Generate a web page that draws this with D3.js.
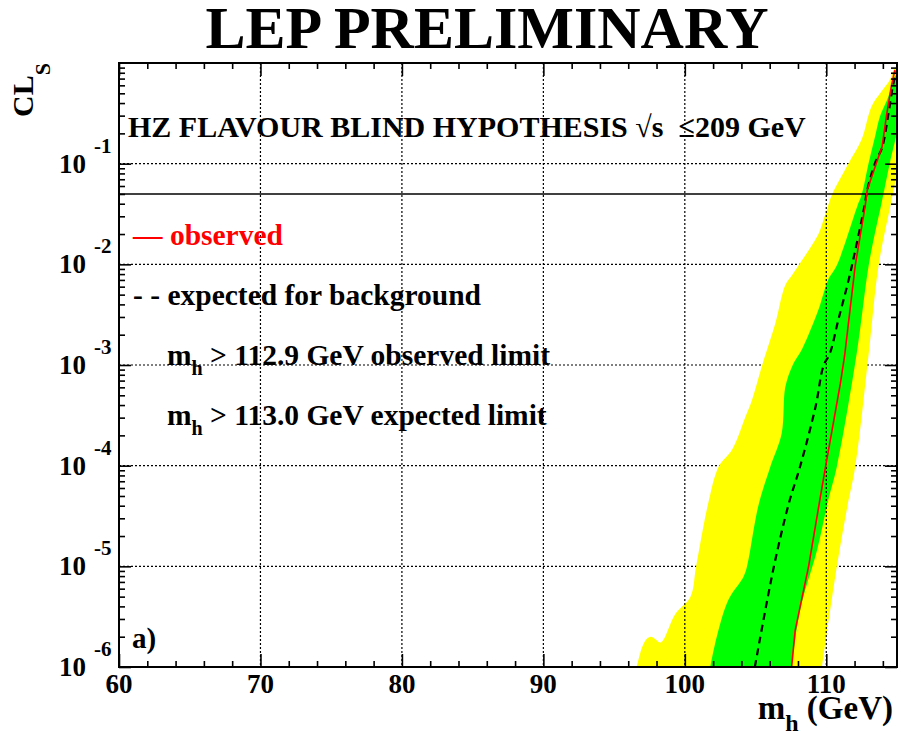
<!DOCTYPE html>
<html><head><meta charset="utf-8">
<script src="https://cdn.jsdelivr.net/npm/d3@7"></script>
<style>
body{margin:0;background:#fff}
svg{display:block}
text{font-family:"Liberation Serif","Times New Roman",serif;font-weight:bold;fill:#000}
</style>
</head><body>
<svg id="c" width="898" height="745"></svg>
<script>
// ---- data (m_h in GeV, CLs) ----
const massTicks = [60, 70, 80, 90, 100, 110];
const massTickLabels = ["60", "70", "80", "90", "100", "110"];
const clsTicks = [1e-6, 1e-5, 1e-4, 1e-3, 1e-2, 1e-1];
const clsExponents = ["-6", "-5", "-4", "-3", "-2", "-1"];
const limitCLs = 0.05;

const yellowUpper = [[96.6,1e-6],[97.0,1.6e-6],[97.3,1.9e-6],[97.6,2.0e-6],[97.9,1.9e-6],[98.3,1.75e-6],[99.35,3.4e-6],[100.4,5.0e-6],[100.8,1.0e-5],[101.65,4.2e-5],[102.4,9.8e-5],[103.35,1.45e-4],[104.3,3.1e-4],[104.75,4.5e-4],[105.45,9.8e-4],[105.8,1.4e-3],[106.4,2.6e-3],[107.1,6.2e-3],[107.6,7.9e-3],[108.05,9.8e-3],[109.45,2.0e-2],[109.8,2.75e-2],[110.05,3.5e-2],[110.4,4.9e-2],[111.6,0.102],[112.5,0.174],[113.2,0.37],[113.9,0.52],[114.5,0.68],[114.75,0.85],[115,0.95]];
const yellowLower = [[109.7,1e-6],[110.75,1.0e-5],[111.5,4.0e-5],[112.05,9.8e-5],[113.0,1.3e-3],[113.7,9.8e-3],[114.55,3.9e-2],[115,0.08]];
const greenUpper = [[101.8,1e-6],[102.3,2.1e-6],[103.1,4.7e-6],[104.15,7.9e-6],[104.4,1.0e-5],[105.2,4.0e-5],[106.05,9.8e-5],[106.85,2.1e-4],[107.1,6.0e-4],[107.6,9.8e-4],[108.3,1.45e-3],[109.45,3.55e-3],[109.8,5.1e-3],[110.15,7.1e-3],[110.75,9.8e-3],[112.2,3.8e-2],[112.5,4.9e-2],[113.0,0.102],[113.45,0.186],[113.8,0.295],[114.4,0.468],[114.75,0.676],[115,0.8]];
const greenLower = [[107.55,1e-6],[108.15,3.7e-6],[109.35,1.45e-5],[110.15,4.6e-5],[110.75,9.8e-5],[112.15,1.3e-3],[113.0,9.8e-3],[113.55,2.4e-2],[113.9,4.0e-2],[114.5,0.102],[115,0.2]];
const expected = [[104.95,1e-6],[106.3,1.0e-5],[107.35,4.2e-5],[108.15,9.8e-5],[109.25,3.9e-4],[109.8,9.8e-4],[110.25,1.3e-3],[110.85,2.8e-3],[111.6,7.2e-3],[112.05,1.38e-2],[112.7,3.8e-2],[112.9,5.5e-2],[113.45,0.102],[113.95,0.145],[114.4,0.316],[114.75,0.63],[115,0.85]];
const observed = [[107.55,1e-6],[107.8,2.3e-6],[108.75,1.0e-5],[109.5,4.2e-5],[109.95,9.8e-5],[111.0,6.6e-4],[111.3,1.25e-3],[112.05,9.8e-3],[112.75,3.8e-2],[112.9,5.5e-2],[113.55,0.102],[113.95,0.148],[114.25,0.295],[114.6,0.59],[114.85,0.85]];

// ---- layout ----
const L = 119, R = 897, T = 63, B = 667;
const svg = d3.select("#c");
const x = d3.scaleLinear().domain([60, 115]).range([L, R]);
const y = d3.scaleLog().domain([1e-6, 1]).range([B, T]);

svg.append("defs").append("clipPath").attr("id","clip")
  .append("rect").attr("x",L).attr("y",T).attr("width",R-L).attr("height",B-T);

const line = d3.line().x(d => x(d[0])).y(d => y(d[1]));
const smooth = d3.line().x(d => x(d[0])).y(d => y(d[1])).curve(d3.curveCatmullRom.alpha(0.5));
const plot = svg.append("g").attr("clip-path","url(#clip)");

// horizontal grid (under bands)
plot.selectAll(".hg").data(clsTicks.slice(1)).join("line")
  .attr("x1",L).attr("x2",R).attr("y1",d=>y(d)).attr("y2",d=>y(d))
  .attr("stroke","#000").attr("stroke-width",1.2).attr("stroke-dasharray","2,2");

function bandPath(upper, lower) {
  const a = smooth(upper);
  const b = smooth(lower.slice().reverse());
  return a + "L" + b.slice(1) + "Z";
}
// bands
plot.append("path").attr("d", bandPath(yellowUpper, yellowLower))
  .attr("fill","#ffff00").attr("stroke","none");
plot.append("path").attr("d", bandPath(greenUpper, greenLower))
  .attr("fill","#00ff00").attr("stroke","none");

// vertical grid (over bands)
plot.selectAll(".vg").data(massTicks.slice(1)).join("line")
  .attr("x1",d=>x(d)).attr("x2",d=>x(d)).attr("y1",T).attr("y2",B)
  .attr("stroke","#000").attr("stroke-width",1.2).attr("stroke-dasharray","2,2");

// 95% CL line
plot.append("line").attr("x1",L).attr("x2",R).attr("y1",y(limitCLs)).attr("y2",y(limitCLs))
  .attr("stroke","#000").attr("stroke-width",1.5);

// expected & observed
plot.append("path").attr("d", smooth(expected)).attr("fill","none")
  .attr("stroke","#000").attr("stroke-width",2.2).attr("stroke-dasharray","7,5");
plot.append("path").attr("d", line(observed)).attr("fill","none")
  .attr("stroke","#ff0000").attr("stroke-width",1.6);

// ---- axes / ticks ----
const xMinor = d3.range(62, 115, 2).filter(v => v % 10 !== 0);
const yMinor = [];
clsTicks.forEach(t => { for (let k = 2; k <= 9; k++) yMinor.push(t * k); });

function tickAxis(axisFn, scale, vals, size, tr) {
  const g = svg.append("g").attr("transform", tr)
    .call(axisFn(scale).tickValues(vals).tickSize(size).tickFormat(""));
  g.select(".domain").remove();
  g.selectAll(".tick line").attr("stroke","#000").attr("stroke-width",1.6);
}
tickAxis(d3.axisBottom, x, massTicks, -13, `translate(0,${B})`);
tickAxis(d3.axisBottom, x, xMinor, -6, `translate(0,${B})`);
tickAxis(d3.axisTop, x, massTicks, -13, `translate(0,${T})`);
tickAxis(d3.axisTop, x, xMinor, -6, `translate(0,${T})`);
tickAxis(d3.axisLeft, y, clsTicks, -12, `translate(${L},0)`);
tickAxis(d3.axisLeft, y, yMinor, -6, `translate(${L},0)`);
tickAxis(d3.axisRight, y, clsTicks, -12, `translate(${R},0)`);
tickAxis(d3.axisRight, y, yMinor, -6, `translate(${R},0)`);

svg.append("rect").attr("x",L).attr("y",T).attr("width",R-L).attr("height",B-T)
  .attr("fill","none").attr("stroke","#000").attr("stroke-width",2);

// x tick labels
svg.selectAll(".xl").data(massTicks).join("text")
  .attr("x", d => x(d)).attr("y", 693).attr("text-anchor","middle")
  .attr("font-size", 27).text((d,i) => massTickLabels[i]);

// y tick labels 10^n
clsTicks.forEach((t, i) => {
  svg.append("text").attr("x", 86).attr("y", y(t) + 9).attr("text-anchor","end")
    .attr("font-size", 27).text("10");
  svg.append("text").attr("x", 94).attr("y", y(t) - 11)
    .attr("font-size", 21).text(clsExponents[i]);
});

// title
svg.append("text").attr("x", 487).attr("y", 48).attr("text-anchor","middle")
  .attr("font-size", 60).text("LEP PRELIMINARY");

// y-axis title
const yt = svg.append("text").attr("transform", `translate(33,${T}) rotate(-90)`)
  .attr("text-anchor","end").attr("font-size", 30);
yt.append("tspan").text("CL");
yt.append("tspan").attr("font-size", 22).attr("dy", 17).text("S");

// x-axis title
const xt = svg.append("text").attr("x", 893).attr("y", 719).attr("text-anchor","end").attr("font-size", 33);
xt.append("tspan").text("m");
xt.append("tspan").attr("font-size", 24).attr("dy", 12).text("h");
xt.append("tspan").attr("dy", -12).text(" (GeV)");

// in-plot texts
svg.append("text").attr("x", 128).attr("y", 137).attr("font-size", 30)
  .style("white-space","pre")
  .text("HZ FLAVOUR BLIND HYPOTHESIS \u221As  \u2264209 GeV");
svg.append("text").attr("x", 133).attr("y", 245).attr("font-size", 29.5)
  .style("fill","#ff0000").text("\u2014 observed");
svg.append("text").attr("x", 133).attr("y", 305).attr("font-size", 29.5)
  .text("- - expected for background");

function massLimit(yb, rest) {
  const t = svg.append("text").attr("x", 167).attr("y", yb).attr("font-size", 29.5);
  t.append("tspan").text("m");
  t.append("tspan").attr("font-size", 20).attr("dy", 10).text("h");
  t.append("tspan").attr("dy", -10).text(" " + rest);
}
massLimit(365, "> 112.9 GeV observed limit");
massLimit(425, "> 113.0 GeV expected limit");

svg.append("text").attr("x", 132).attr("y", 648).attr("font-size", 29).text("a)");
</script>
</body></html>
